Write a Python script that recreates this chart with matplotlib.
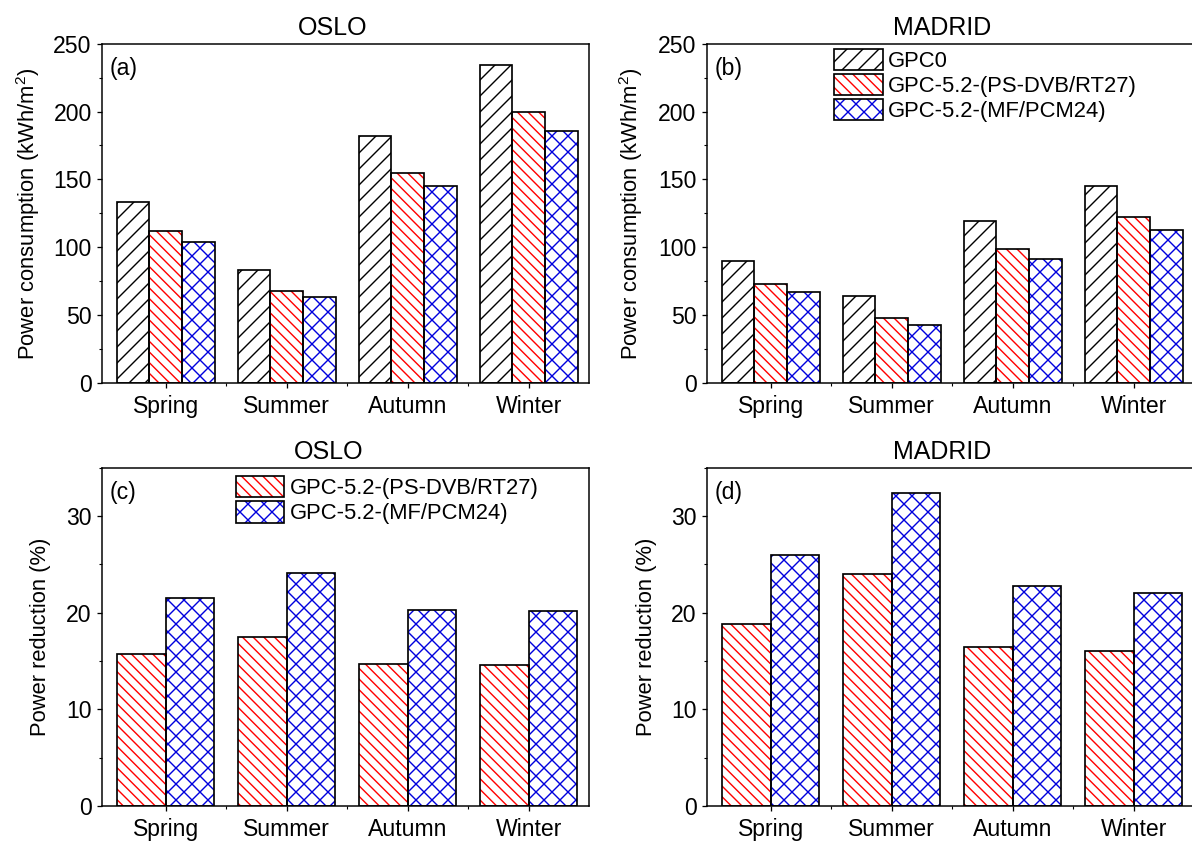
import numpy as np
import matplotlib.pyplot as plt
from matplotlib.patches import Patch
from matplotlib.legend_handler import HandlerTuple

DPI = 96
k = 72 / DPI  # pixels -> points

plt.rcParams['font.family'] = ['Liberation Sans', 'DejaVu Sans']
plt.rcParams['mathtext.fontset'] = 'custom'
plt.rcParams['mathtext.rm'] = 'Liberation Sans'
plt.rcParams['mathtext.it'] = 'Liberation Sans'
plt.rcParams['hatch.linewidth'] = 1.4 * k

seasons = ['Spring', 'Summer', 'Autumn', 'Winter']
names = ['GPC0', 'GPC-5.2-(PS-DVB/RT27)', 'GPC-5.2-(MF/PCM24)']

# power consumption (kWh/m2)
oslo_gpc0 = [133, 83, 182, 234]
oslo_psdvb = [112, 68, 155, 200]
oslo_mf = [104, 63, 145, 186]
madrid_gpc0 = [90, 64, 119, 145]
madrid_psdvb = [73, 48, 99, 122]
madrid_mf = [67, 43, 91, 113]

# power reduction (%)
oslo_red_psdvb = [15.7, 17.5, 14.7, 14.6]
oslo_red_mf = [21.5, 24.1, 20.3, 20.2]
madrid_red_psdvb = [18.8, 24.0, 16.5, 16.0]
madrid_red_mf = [26.0, 32.4, 22.8, 22.0]

colors = ['black', '#ff0000', '#0000dd']
hatches = ['//', '\\\\\\', 'xx']

W, H = 1192, 842
fig = plt.figure(figsize=(W / DPI, H / DPI), dpi=DPI)

def make_ax(l, t, r, b):
    return fig.add_axes([l / W, 1 - b / H, (r - l) / W, (b - t) / H])

ax_a = make_ax(101.7, 43.7, 589.3, 383)
ax_b = make_ax(706.5, 43.7, 1194.1, 383)
ax_c = make_ax(101.7, 467.7, 589.3, 806)
ax_d = make_ax(706.5, 467.7, 1194.1, 806)

x = np.arange(len(seasons))
EDGE = 1.7 * k


def hatched_bars(ax, xpos, h, w, color, hatch):
    ax.bar(xpos, h, w, color='none', edgecolor=color, hatch=hatch, linewidth=0)
    ax.bar(xpos, h, w, color='none', edgecolor='black', linewidth=EDGE)


def handle(i):
    return (Patch(facecolor='white', edgecolor=colors[i], hatch=hatches[i], linewidth=0),
            Patch(facecolor='none', edgecolor='black', linewidth=EDGE))


def style(ax, title, tx, label, ylim, major, minor, lab_x):
    ax.set_xlim(-0.53, 3.5)
    ax.set_ylim(*ylim)
    ax.set_xticks(x)
    ax.set_xticklabels(seasons)
    ax.set_xticks([0.5, 1.5, 2.5], minor=True)
    ax.set_yticks(np.arange(0, ylim[1] + 0.1, major))
    ax.set_yticks(np.arange(0, ylim[1] + 0.1, minor), minor=True)
    ax.tick_params(which='major', direction='out', length=5 * k, width=1.3 * k,
                   labelsize=23 * k, pad=5 * k)
    ax.tick_params(which='minor', direction='out', length=3 * k, width=1.1 * k)
    ax.tick_params(axis='x', which='major', pad=7 * k)
    for s in ax.spines.values():
        s.set_linewidth(1.5 * k)
    ax.set_title(title, fontsize=25 * k, pad=9 * k, x=tx)
    ax.set_ylabel(label, fontsize=22 * k)
    ax.yaxis.set_label_coords(lab_x, 0.5)


# (a), (b): consumption
for ax, vals, title, tx, tag, lx in [(ax_a, [oslo_gpc0, oslo_psdvb, oslo_mf], 'OSLO', 0.473, '(a)', -0.122),
                                     (ax_b, [madrid_gpc0, madrid_psdvb, madrid_mf], 'MADRID', 0.484, '(b)', -0.126)]:
    for i, v in enumerate(vals):
        hatched_bars(ax, x + (i - 1) * 0.27, v, 0.27, colors[i], hatches[i])
    style(ax, title, tx, 'Power consumption (kWh/m$^2$)', (0, 250), 50, 25, lx)
    ax.text(0.017, 0.928, tag, transform=ax.transAxes, fontsize=23 * k, va='center', ha='left')

ax_b.legend([handle(0), handle(1), handle(2)], names,
            handler_map={tuple: HandlerTuple(ndivide=1, pad=0)},
            loc='upper left', bbox_to_anchor=(0.262, 0.985), frameon=False,
            fontsize=22 * k, handlelength=2.2, handleheight=1.1, labelspacing=0.1,
            handletextpad=0.25, borderpad=0, borderaxespad=0)

# (c), (d): reduction
for ax, vals, title, tx, tag, lx in [(ax_c, [oslo_red_psdvb, oslo_red_mf], 'OSLO', 0.466, '(c)', -0.104),
                                     (ax_d, [madrid_red_psdvb, madrid_red_mf], 'MADRID', 0.484, '(d)', -0.102)]:
    for i, v in enumerate(vals):
        hatched_bars(ax, x + (i - 0.5) * 0.4, v, 0.4, colors[i + 1], hatches[i + 1])
    style(ax, title, tx, 'Power reduction (%)', (0, 35), 10, 5, lx)
    ax.text(0.017, 0.926, tag, transform=ax.transAxes, fontsize=23 * k, va='center', ha='left')

ax_c.legend([handle(1), handle(2)], names[1:],
            handler_map={tuple: HandlerTuple(ndivide=1, pad=0)},
            loc='upper left', bbox_to_anchor=(0.275, 0.975), frameon=False,
            fontsize=22 * k, handlelength=2.2, handleheight=1.1, labelspacing=0.1,
            handletextpad=0.25, borderpad=0, borderaxespad=0)

fig.savefig('out.png', dpi=DPI)
